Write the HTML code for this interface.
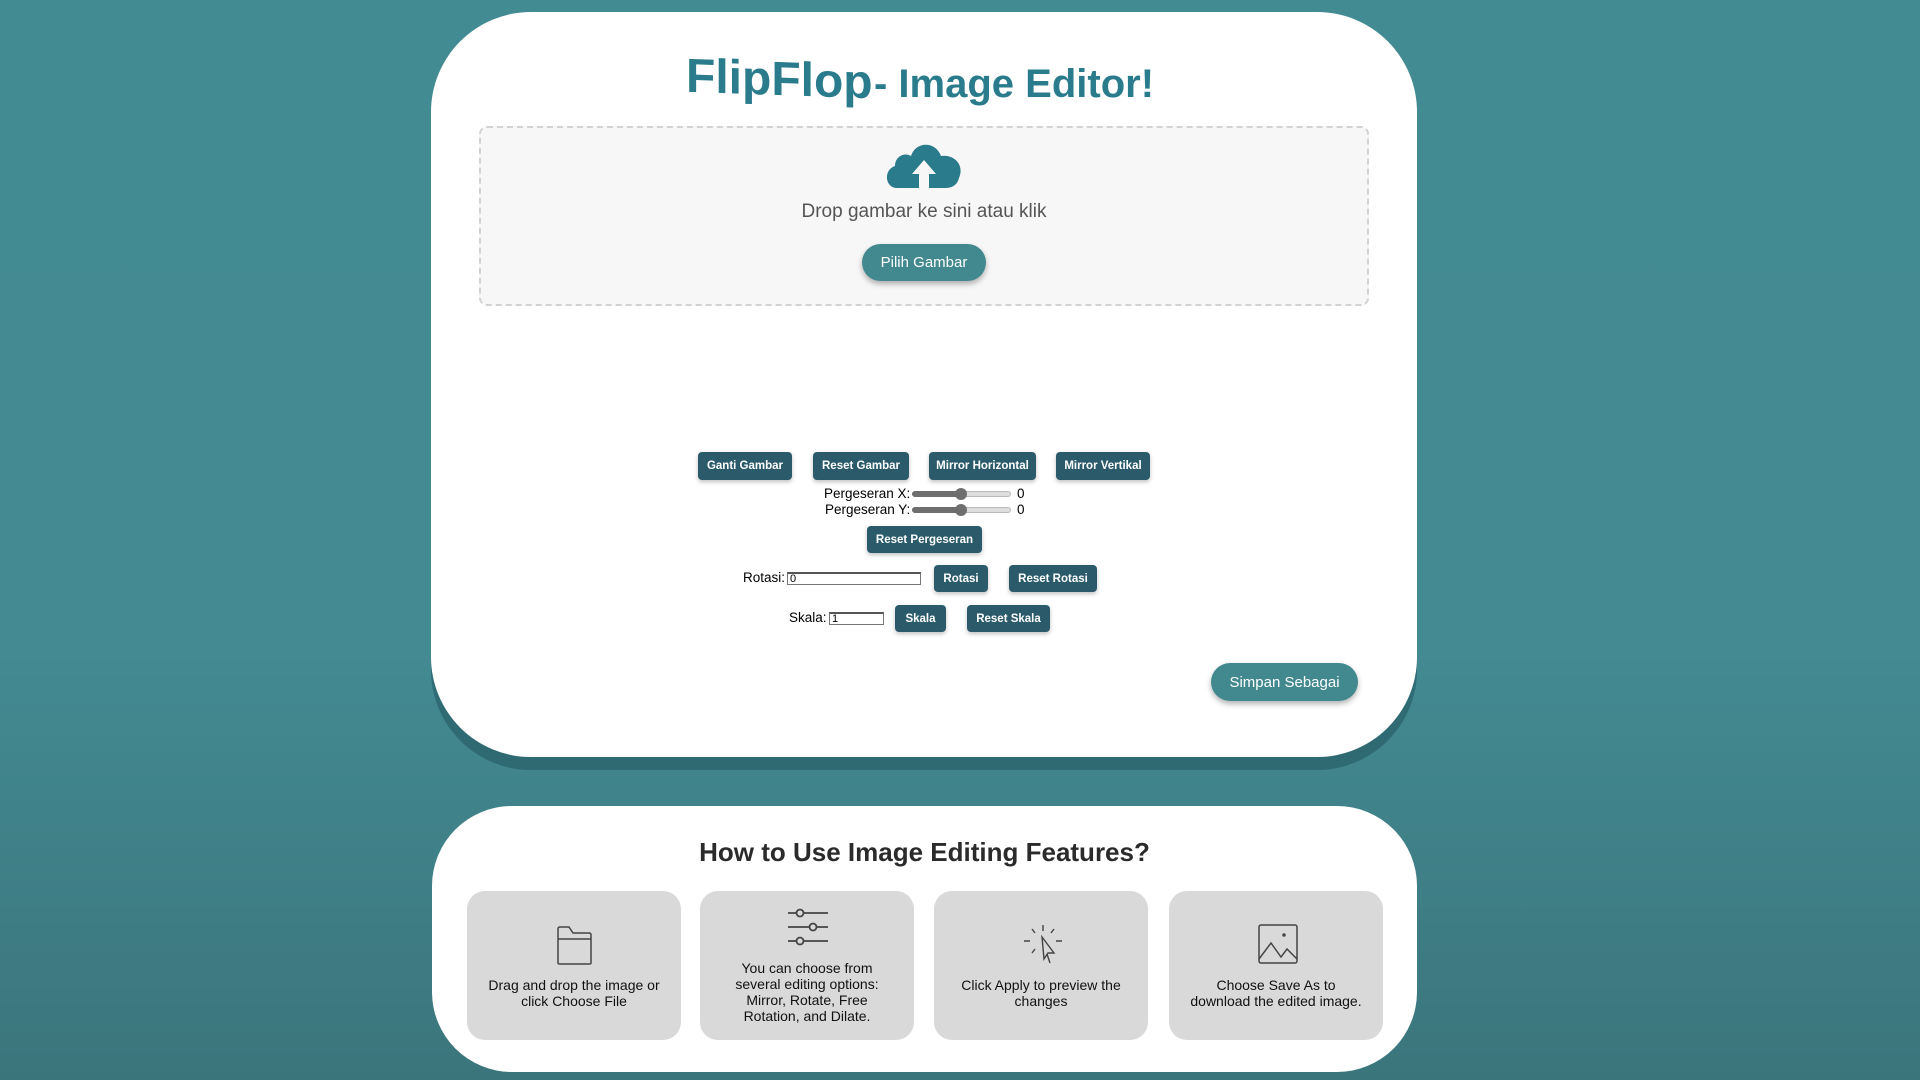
<!DOCTYPE html>
<html><head><meta charset="utf-8"><style>
*{box-sizing:border-box;margin:0;padding:0}
body{width:1920px;height:1080px;overflow:hidden;background:linear-gradient(#438b93 0%,#438a92 60%,#3b757c 100%);font-family:"Liberation Sans",Arial,sans-serif;position:relative}
.abs{position:absolute}
.card{position:absolute;background:#fff}
.btn{position:absolute;background:#2b5b6b;color:#fff;font-weight:bold;font-size:11.5px;display:flex;align-items:center;justify-content:center;border-radius:4px;box-shadow:0 2px 4px rgba(0,0,0,.25)}
.pill{position:absolute;background:#42898f;color:#fff;font-size:15px;display:flex;align-items:center;justify-content:center;border-radius:20px;box-shadow:0 3px 6px rgba(0,0,0,.3)}
.lbl{position:absolute;font-size:13.5px;color:#000;line-height:16px}
.tile{position:absolute;top:891px;width:214px;height:149px;background:#d9d9d9;border-radius:18px}
.tile p{position:absolute;left:18px;right:18px;text-align:center;font-size:14px;line-height:16px;color:#111}
.inp{position:absolute;border:1px solid #767676;border-top:2px solid #555;background:#fff;font-size:11px;line-height:10px;padding-left:2px}
.slider{position:absolute;height:6px;border-radius:3px;background:#ddd;border:1px solid #bbb}
</style></head><body>
<div class="card" style="left:431px;top:12px;width:986px;height:745px;border-radius:100px;box-shadow:0 13px 0 rgba(30,80,90,.5)"></div>
<div class="abs" style="left:686px;top:52px;font-size:48px;font-weight:bold;color:#2a7b8c;transform:skewY(2deg)">FlipFlop</div>
<div class="abs" style="left:874px;top:62px;font-size:40px;font-weight:bold;color:#2a7b8c">- Image Editor!</div>
<div class="abs" style="left:479px;top:126px;width:890px;height:180px;background:#f7f7f7;border:2px dashed #d2d2d2;border-radius:8px"></div>
<svg class="abs" style="left:883px;top:140px" width="82" height="50" viewBox="0 0 82 50">
<path d="M14 48 C2 48 0 30 12 26 C12 16 22 12 28 16 C32 2 52 0 58 16 C70 14 82 24 76 38 C74 46 68 48 62 48 Z" fill="#2a7b8c"/>
<path d="M41 20 L53 34 L46 34 L46 48 L36 48 L36 34 L29 34 Z" fill="#f7f7f7"/>
</svg>
<div class="abs" style="left:700px;top:201px;width:448px;text-align:center;font-size:19px;color:#555">Drop gambar ke sini atau klik</div>
<div class="pill" style="left:862px;top:244px;width:124px;height:37px">Pilih Gambar</div>

<div class="btn" style="left:698px;top:452px;width:94px;height:28px">Ganti Gambar</div>
<div class="btn" style="left:813px;top:452px;width:96px;height:28px">Reset Gambar</div>
<div class="btn" style="left:929px;top:452px;width:107px;height:28px">Mirror Horizontal</div>
<div class="btn" style="left:1056px;top:452px;width:94px;height:28px">Mirror Vertikal</div>

<div class="lbl" style="left:824px;top:486px">Pergeseran X:</div>
<div class="slider" style="left:912px;top:491px;width:99px"></div>
<div class="abs" style="left:912px;top:491px;width:50px;height:6px;background:#6e6e6e;border-radius:3px"></div>
<div class="abs" style="left:955px;top:488px;width:12px;height:12px;border-radius:6px;background:#6e6e6e"></div>
<div class="lbl" style="left:1017px;top:486px">0</div>
<div class="lbl" style="left:825px;top:502px">Pergeseran Y:</div>
<div class="slider" style="left:912px;top:507px;width:99px"></div>
<div class="abs" style="left:912px;top:507px;width:50px;height:6px;background:#6e6e6e;border-radius:3px"></div>
<div class="abs" style="left:955px;top:504px;width:12px;height:12px;border-radius:6px;background:#6e6e6e"></div>
<div class="lbl" style="left:1017px;top:502px">0</div>
<div class="btn" style="left:867px;top:526px;width:115px;height:27px">Reset Pergeseran</div>

<div class="lbl" style="left:743px;top:570px">Rotasi:</div>
<div class="inp" style="left:787px;top:572px;width:134px;height:13px">0</div>
<div class="btn" style="left:934px;top:565px;width:54px;height:27px">Rotasi</div>
<div class="btn" style="left:1009px;top:565px;width:88px;height:27px">Reset Rotasi</div>
<div class="lbl" style="left:789px;top:610px">Skala:</div>
<div class="inp" style="left:829px;top:612px;width:55px;height:13px">1</div>
<div class="btn" style="left:895px;top:605px;width:51px;height:27px">Skala</div>
<div class="btn" style="left:967px;top:605px;width:83px;height:27px">Reset Skala</div>
<div class="pill" style="left:1211px;top:663px;width:147px;height:38px">Simpan Sebagai</div>

<div class="card" style="left:432px;top:806px;width:985px;height:266px;border-radius:80px"></div>
<div class="abs" style="left:432px;top:837px;width:985px;text-align:center;font-size:26px;font-weight:bold;color:#2b2b2b">How to Use Image Editing Features?</div>

<div class="tile" style="left:467px">
<svg class="abs" style="left:88px;top:32px" width="40" height="42" viewBox="0 0 40 42" fill="none" stroke="#444" stroke-width="1.5"><path d="M3 40 V6 Q3 4 5 4 H14 L18 10 H34 Q36 10 36 12 V40 Q36 41 34 41 H5 Q3 41 3 40 Z M3 16 H36"/></svg>
<p style="top:86px">Drag and drop the image or click Choose File</p></div>
<div class="tile" style="left:700px">
<svg class="abs" style="left:86px;top:16px" width="44" height="42" viewBox="0 0 44 42" fill="none" stroke="#444" stroke-width="1.8"><path d="M2 6H42M2 20H42M2 34H42"/><circle cx="14" cy="6" r="3.5" fill="#d9d9d9"/><circle cx="27" cy="20" r="3.5" fill="#d9d9d9"/><circle cx="14" cy="34" r="3.5" fill="#d9d9d9"/></svg>
<p style="top:69px">You can choose from several editing options: Mirror, Rotate, Free Rotation, and Dilate.</p></div>
<div class="tile" style="left:934px">
<svg class="abs" style="left:88px;top:32px" width="42" height="42" viewBox="0 0 42 42" fill="none" stroke="#444" stroke-width="1.4"><path d="M21 2V8M10 6L13 10M32 6L29 10M2 18H8M34 18H40M10 30L13 26"/><path d="M20 14 L22 36 L26 30 L32 30 Z"/><path d="M25 31 L28 40"/></svg>
<p style="top:86px">Click Apply to preview the changes</p></div>
<div class="tile" style="left:1169px">
<svg class="abs" style="left:88px;top:32px" width="42" height="42" viewBox="0 0 42 42" fill="none" stroke="#444" stroke-width="1.5"><rect x="2" y="2" width="38" height="38" rx="2"/><path d="M2 36 L14 20 L24 34 L30 26 L40 36"/><circle cx="27" cy="12" r="1" fill="#444"/></svg>
<p style="top:86px">Choose Save As to download the edited image.</p></div>
</body></html>
